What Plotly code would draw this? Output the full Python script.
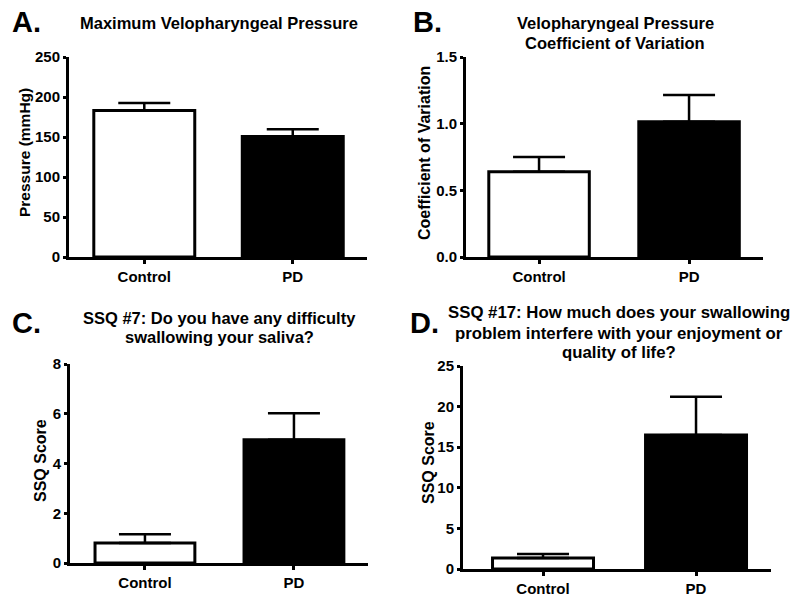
import plotly.graph_objects as go

categories = ["Control", "PD"]

# Panel values (mean, SEM upper)
a_means = [183.0, 150.5]
a_errs = [9.5, 9.2]
b_means = [0.64, 1.015]
b_errs = [0.11, 0.20]
c_means = [0.80, 4.95]
c_errs = [0.36, 1.07]
d_means = [1.35, 16.5]
d_errs = [0.50, 4.70]

a_ticks = [0, 50, 100, 150, 200, 250]
b_ticks = [0.0, 0.5, 1.0, 1.5]
b_ticklabels = ["0.0", "0.5", "1.0", "1.5"]
c_ticks = [0, 2, 4, 6, 8]
d_ticks = [0, 5, 10, 15, 20, 25]

W, H = 800, 598
FONT = "Arial, Liberation Sans, Helvetica, sans-serif"
fills = ["white", "black"]

panels = [
    dict(m=a_means, e=a_errs, xd=(69, 367), yd=(57, 257), yr=[0, 250], tv=a_ticks, tt=None, xr=[-0.507, 1.5], bw=0.68),
    dict(m=b_means, e=b_errs, xd=(466, 763), yd=(57, 257), yr=[0, 1.5], tv=b_ticks, tt=b_ticklabels, xr=[-0.487, 1.493], bw=0.67),
    dict(m=c_means, e=c_errs, xd=(70, 368), yd=(364, 563), yr=[0, 8], tv=c_ticks, tt=None, xr=[-0.503, 1.497], bw=0.67),
    dict(m=d_means, e=d_errs, xd=(463, 771), yd=(366, 569), yr=[0, 25], tv=d_ticks, tt=None, xr=[-0.523, 1.49], bw=0.66),
]

fig = go.Figure()
layout = dict(
    width=W, height=H, margin=dict(l=0, r=0, t=0, b=0, autoexpand=False),
    paper_bgcolor="white", plot_bgcolor="white", showlegend=False,
    font=dict(family=FONT, color="black"),
)

for i, p in enumerate(panels):
    n = "" if i == 0 else str(i + 1)
    fig.add_trace(go.Bar(
        x=categories, y=p["m"], width=p["bw"],
        marker=dict(color=fills, line=dict(color="black", width=3)),
        error_y=dict(type="data", array=p["e"], arrayminus=[0, 0], symmetric=False,
                     color="black", thickness=2.5, width=26),
        xaxis="x" + n, yaxis="y" + n,
    ))
    layout["xaxis" + n] = dict(
        domain=[p["xd"][0] / W, p["xd"][1] / W], anchor="y" + n,
        type="category", range=p["xr"], showgrid=False, zeroline=False,
        showline=True, linecolor="black", linewidth=3,
        ticks="outside", ticklen=4, tickwidth=2.5, tickcolor="black",
        tickfont=dict(family=FONT, size=15, color="black", weight="bold"),
        fixedrange=True,
    )
    yax = dict(
        domain=[1 - p["yd"][1] / H, 1 - p["yd"][0] / H], anchor="x" + n,
        range=p["yr"], showgrid=False, zeroline=False,
        showline=True, linecolor="black", linewidth=3,
        ticks="outside", ticklen=3, tickwidth=2.5, tickcolor="black",
        tickvals=p["tv"], tickfont=dict(family=FONT, size=15, color="black", weight="bold"),
        fixedrange=True,
    )
    if p["tt"]:
        yax["ticktext"] = p["tt"]
    layout["yaxis" + n] = yax

fig.update_layout(**layout)

def ann(text, px, py, size=16.5, xanchor="center", angle=0):
    fig.add_annotation(text=text, x=px / W, y=1 - py / H, xref="paper", yref="paper",
                       showarrow=False, xanchor=xanchor, yanchor="middle", textangle=angle,
                       font=dict(family=FONT, size=size, color="black", weight="bold"))

# Panel letters
ann("A.", 10, 22, size=29, xanchor="left")
ann("B.", 411, 22, size=29, xanchor="left")
ann("C.", 10, 323, size=29, xanchor="left")
ann("D.", 408, 323, size=29, xanchor="left")

# Titles
ann("Maximum Velopharyngeal Pressure", 219, 23)
ann("Velopharyngeal Pressure", 615, 23)
ann("Coefficient of Variation", 615, 43)
ann("SSQ #7: Do you have any difficulty", 219, 318)
ann("swallowing your saliva?", 219, 337)
ann("SSQ #17: How much does your swallowing", 619, 312, size=16.8)
ann("problem interfere with your enjoyment or", 619, 333, size=16.8)
ann("quality of life?", 619, 352, size=16.8)

# Y-axis titles
ann("Pressure (mmHg)", 25, 153, size=15.5, angle=-90)
ann("Coefficient of Variation", 425, 153, size=16, angle=-90)
ann("SSQ Score", 40, 461, size=16, angle=-90)
ann("SSQ Score", 428, 463, size=16, angle=-90)

fig.write_html(
    "out.html",
    config={"displayModeBar": False},
    post_script="document.body.style.margin='0';document.body.style.overflow='hidden';",
)
